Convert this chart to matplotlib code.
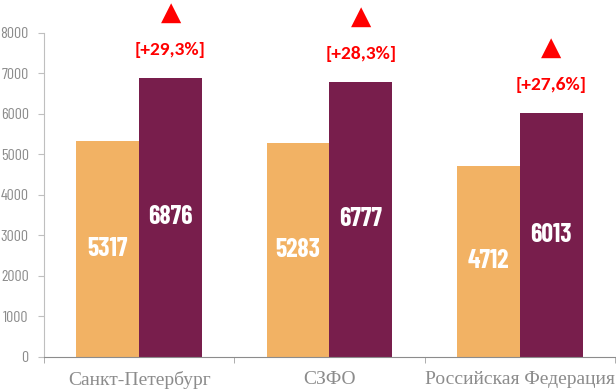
import numpy as np
import matplotlib
matplotlib.use("Agg")
import matplotlib.pyplot as plt

regions = ["Санкт-Петербург", "СЗФО", "Российская Федерация"]
values_before = [5317, 5283, 4712]
values_after = [6876, 6777, 6013]
y_ticks = [0, 1000, 2000, 3000, 4000, 5000, 6000, 7000, 8000]

ORANGE = "#F2B264"
PURPLE = "#781E4C"
GRAY = "#8C8C8C"
RED = "#FF0000"

NARROW = ["Barlow Condensed", "DejaVu Sans"]
CALIBRI = ["Carlito", "Liberation Sans", "DejaVu Sans"]
SERIF = ["Liberation Serif", "DejaVu Serif"]

fig = plt.figure(figsize=(6.16, 3.91), dpi=100)
ax = fig.add_axes([0.0714, 0.0877, 0.927, 0.829])

x = np.arange(len(regions))
w = 0.33
b1 = ax.bar(x - w / 2, values_before, w, color=ORANGE)
b2 = ax.bar(x + w / 2, values_after, w, color=PURPLE)

# values inside bars
for bars, vals in ((b1, values_before), (b2, values_after)):
    for r, v in zip(bars, vals):
        ax.text(r.get_x() + r.get_width() / 2, v / 2, str(v),
                ha="center", va="center", color="white",
                fontsize=18.5, fontweight="bold", family=NARROW)

# growth labels + triangles above the second bar
for xi, a, b in zip(x, values_before, values_after):
    pct = (b / a - 1) * 100
    txt = f"[+{pct:.1f}%]".replace(".", ",")
    ax.annotate(txt, (xi + w / 2, b), xytext=(0, 20), textcoords="offset points",
                ha="center", va="center", color=RED, fontsize=14,
                fontweight="bold", family=CALIBRI, annotation_clip=False)
    ax.annotate("\u25B2", (xi + w / 2, b), xytext=(0, 47), textcoords="offset points",
                ha="center", va="center", color=RED, fontsize=19,
                family="DejaVu Sans", annotation_clip=False)

ax.set_xlim(-0.5, len(regions) - 0.5)
ax.set_ylim(0, 8000)
ax.set_yticks(y_ticks)
ax.set_yticklabels([str(t) for t in y_ticks], family=NARROW, fontsize=11.5, color=GRAY)
ax.set_xticks(x)
ax.set_xticklabels(regions, family=SERIF, fontsize=14, color=GRAY)
ax.set_xticks(np.arange(len(regions) + 1) - 0.5, minor=True)
ax.tick_params(axis="x", which="major", length=0, pad=10)
ax.tick_params(axis="x", which="minor", length=4, color="#A0A0A0", direction="out")
ax.tick_params(axis="y", length=4, color="#BFBFBF", pad=7)

for s in ("top", "right"):
    ax.spines[s].set_visible(False)
ax.spines["left"].set_color("#BFBFBF")
ax.spines["bottom"].set_color("#8C8C8C")

fig.savefig("out.png", dpi=100)
